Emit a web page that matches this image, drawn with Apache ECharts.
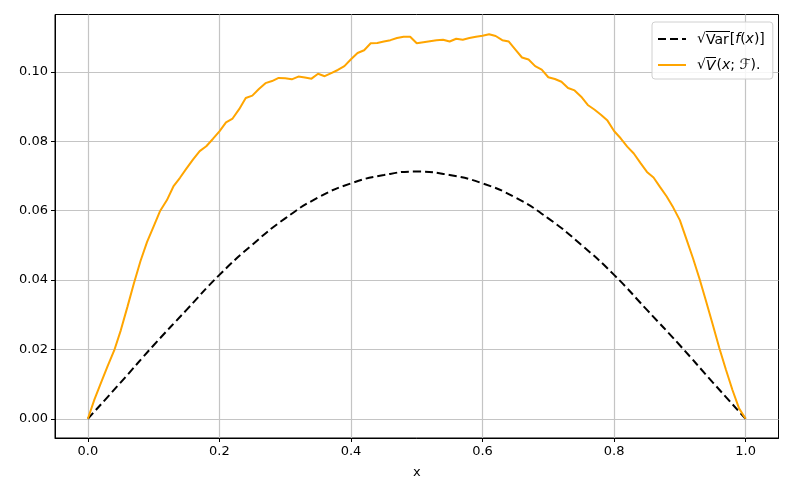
<!DOCTYPE html>
<html>
<head>
<meta charset="utf-8">
<script src="https://cdn.jsdelivr.net/npm/echarts@6/dist/echarts.min.js"></script>
<style>
  html, body { margin: 0; padding: 0; background: #fff; }
  #chart { width: 793px; height: 496px; }
</style>
</head>
<body>
<div id="chart"></div>
<script>
// sqrt(Var[f(x)]) sampled every 0.05
const varX = [0, 0.05, 0.1, 0.15, 0.2, 0.25, 0.3, 0.35, 0.4, 0.45, 0.5,
  0.55, 0.6, 0.65, 0.7, 0.75, 0.8, 0.85, 0.9, 0.95, 1]
const varY = [0, 0.0105, 0.0212, 0.0314, 0.0415, 0.0502, 0.0578, 0.0638, 0.0679, 0.0703, 0.0713,
  0.0703, 0.0679, 0.0638, 0.0578, 0.0502, 0.0415, 0.0314, 0.0212, 0.0105, 0]

// sqrt(V(x; F)) sampled every 0.01 (noisy estimate)
const estY = [
  0, 0.0056, 0.0104, 0.0152, 0.0197, 0.0255, 0.0322, 0.0391, 0.0455, 0.051,
  0.0555, 0.06, 0.063, 0.067, 0.0695, 0.0722, 0.0748, 0.0772, 0.0786, 0.0807,
  0.0829, 0.0855, 0.0866, 0.0893, 0.0925, 0.0932, 0.0951, 0.0968, 0.0974, 0.0983,
  0.0982, 0.0979, 0.0987, 0.0984, 0.0981, 0.0995, 0.0988, 0.0997, 0.1006, 0.1017,
  0.1037, 0.1055, 0.1063, 0.1083, 0.1084, 0.1088, 0.1092, 0.1098, 0.1102, 0.1102,
  0.1083, 0.1086, 0.1089, 0.1092, 0.1093, 0.1088, 0.1096, 0.1093, 0.1098, 0.1102,
  0.1105, 0.1109, 0.1104, 0.1092, 0.1088, 0.1065, 0.1042, 0.1036, 0.1017, 0.1007,
  0.0985, 0.098, 0.0972, 0.0954, 0.0947, 0.0929, 0.0905, 0.0892, 0.0877, 0.086,
  0.083, 0.0809, 0.0785, 0.0765, 0.0738, 0.0712, 0.0696, 0.0668, 0.0641, 0.0609,
  0.0573, 0.0518, 0.0463, 0.0403, 0.0338, 0.0272, 0.0204, 0.0142, 0.0083, 0.003,
  0
]
const estX = estY.map((_, i) => i / 100)

const xTicks = [0, 0.2, 0.4, 0.6, 0.8, 1.0]
const yTicks = [0, 0.02, 0.04, 0.06, 0.08, 0.1]

const varName = "sqrtVar"
const estName = "sqrtV"

const font = "DejaVu Sans"
const chart = echarts.init(document.getElementById("chart"))

// small image with a line along its top edge, used as the radical's vinculum
const bar = document.createElement("canvas")
bar.width = 4
bar.height = 40
const bctx = bar.getContext("2d")
bctx.fillStyle = "#000"
bctx.fillRect(0, 0, 4, 3)

const gridLine = { show: true, lineStyle: { color: "#c4c4c4", width: 1.2 } }
const lf = 14

const option = {
  animation: false,
  grid: {
    left: 55,
    right: 14.5,
    top: 14.5,
    bottom: 58,
    show: true,
    borderColor: "#000",
    borderWidth: 1,
    backgroundColor: "#fff",
  },
  xAxis: {
    type: "value",
    min: -0.05,
    max: 1.05,
    name: "x",
    nameLocation: "middle",
    nameGap: 28,
    nameTextStyle: { color: "#000", fontFamily: font, fontSize: 13 },
    axisLine: { show: true, onZero: false, lineStyle: { color: "#000", width: 1 } },
    axisTick: { show: true, length: 4, customValues: xTicks, lineStyle: { color: "#000" } },
    axisLabel: {
      customValues: xTicks,
      margin: 7,
      color: "#000",
      fontFamily: font,
      fontSize: 13,
      formatter: (v) => v.toFixed(1),
    },
    splitLine: gridLine,
  },
  yAxis: {
    type: "value",
    min: -0.00555,
    max: 0.1166,
    axisLine: { show: true, onZero: false, lineStyle: { color: "#000", width: 1 } },
    axisTick: { show: true, length: 4, customValues: yTicks, lineStyle: { color: "#000" } },
    axisLabel: {
      customValues: yTicks,
      margin: 7,
      color: "#000",
      fontFamily: font,
      fontSize: 13,
      formatter: (v) => v.toFixed(2),
    },
    splitLine: gridLine,
  },
  legend: {
    orient: "vertical",
    left: 652,
    top: 22,
    padding: [9, 8, 6, 5],
    itemWidth: 28,
    itemHeight: 14,
    itemGap: 10,
    itemStyle: { opacity: 0 },
    backgroundColor: "rgba(255,255,255,0.85)",
    borderColor: "#d0d0d0",
    borderWidth: 1,
    borderRadius: 3,
    textStyle: {
      color: "#000",
      fontFamily: font,
      fontSize: lf,
      padding: [0, 0, 0, 6],
      rich: {
        it: { fontStyle: "italic", fontFamily: font, fontSize: lf, color: "#000" },
        rm: { fontFamily: font, fontSize: lf, color: "#000" },
        ov: {
          fontFamily: font, fontSize: lf, color: "#000",
          padding: [2, 1, 0, 0],
          backgroundColor: { image: bar },
        },
        ovi: {
          fontFamily: font, fontSize: lf, color: "#000", fontStyle: "italic",
          padding: [2, 1, 0, 0],
          backgroundColor: { image: bar },
        },
      },
    },
    formatter: (name) => {
      if (name === varName) {
        return "{rm|√}{ov|Var}{rm|[}{it|f}{rm|(}{it|x}{rm|)]}"
      }
      return "{rm|√}{ovi|V}{rm|(}{it|x}{rm|; ℱ).}"
    },
    data: [varName, estName],
  },
  series: [
    {
      name: varName,
      type: "line",
      data: varX.map((x, i) => [x, varY[i]]),
      smooth: true,
      showSymbol: false,
      symbol: "none",
      lineStyle: { color: "#000", width: 2, type: [8, 4] },
      itemStyle: { color: "#000" },
      z: 3,
    },
    {
      name: estName,
      type: "line",
      data: estX.map((x, i) => [x, estY[i]]),
      showSymbol: false,
      symbol: "none",
      lineStyle: { color: "#ffa500", width: 2 },
      itemStyle: { color: "#ffa500" },
      z: 4,
    },
  ],
}

chart.setOption(option)
</script>
</body>
</html>
